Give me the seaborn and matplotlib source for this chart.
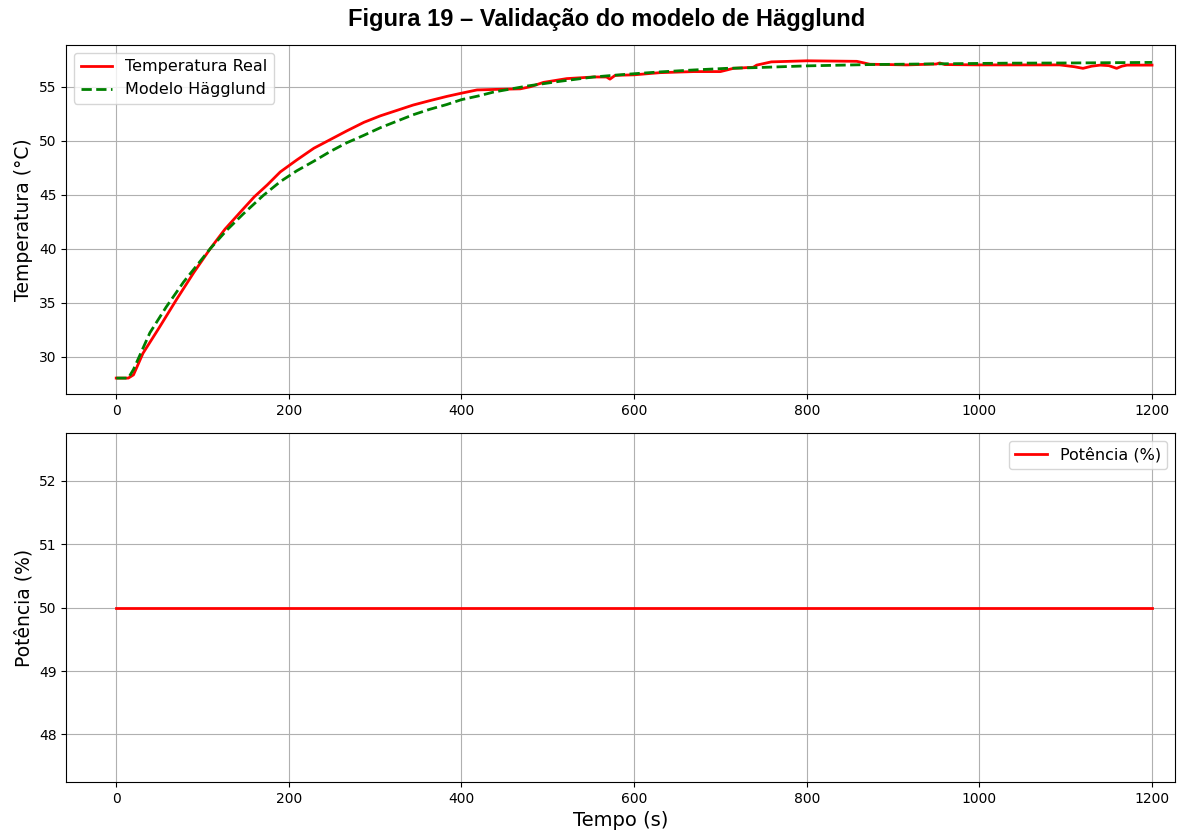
import numpy as np
import pandas as pd
import matplotlib
matplotlib.use("Agg")
import matplotlib.pyplot as plt
import seaborn as sns

# --- data ---
t_real = [0, 14, 20, 31, 50, 70, 90, 109, 126, 144, 160, 175, 190, 209, 229, 248, 267, 287,
          306, 325, 344, 363, 383, 400, 418, 440, 468, 480, 495, 522, 553, 568, 572, 578,
          600, 630, 669, 700, 715, 738, 742, 759, 800, 858, 873, 916, 950, 954, 960, 1000,
          1093, 1110, 1120, 1130, 1140, 1150, 1159, 1165, 1171, 1200]
temp_real = [28.0, 28.0, 28.3, 30.3, 32.7, 35.3, 37.8, 40.0, 41.8, 43.4, 44.8, 45.9, 47.1, 48.2,
             49.3, 50.1, 50.9, 51.7, 52.3, 52.8, 53.3, 53.7, 54.1, 54.4, 54.7, 54.75, 54.8,
             55.0, 55.4, 55.75, 55.9, 55.9, 55.7, 56.05, 56.1, 56.3, 56.4, 56.4, 56.7, 56.8,
             57.0, 57.3, 57.4, 57.35, 57.08, 57.02, 57.1, 57.2, 57.05, 57.02, 57.02, 56.85,
             56.7, 56.9, 57.0, 56.95, 56.7, 56.9, 57.0, 57.0]

t_model = [0, 14, 20, 39, 58, 78, 94, 109, 128, 147, 170, 190, 209, 229, 248, 267, 287, 306,
           325, 344, 363, 383, 400, 420, 437, 476, 514, 553, 591, 630, 669, 707, 742, 800,
           873, 954, 1032, 1109, 1200]
temp_model = [28.0, 28.0, 28.8, 32.2, 34.6, 36.9, 38.5, 40.0, 41.7, 43.2, 44.9, 46.2, 47.2,
              48.1, 49.0, 49.8, 50.5, 51.2, 51.8, 52.4, 52.9, 53.35, 53.8, 54.15, 54.5, 55.06,
              55.5, 55.9, 56.15, 56.37, 56.55, 56.7, 56.77, 56.93, 57.05, 57.12, 57.18, 57.2,
              57.25]

t_pot = [0, 1200]
potencia = [50, 50]

df_real = pd.DataFrame({"t": t_real, "v": temp_real})
df_model = pd.DataFrame({"t": t_model, "v": temp_model})
df_pot = pd.DataFrame({"t": t_pot, "v": potencia})

fig, (ax1, ax2) = plt.subplots(2, 1, figsize=(12.03, 8.32), dpi=100)
fig.subplots_adjust(left=0.055, right=0.977, top=0.946, bottom=0.06, hspace=0.112)

sns.lineplot(data=df_real, x="t", y="v", ax=ax1, color="red", linewidth=2,
             label="Temperatura Real", estimator=None, sort=False)
sns.lineplot(data=df_model, x="t", y="v", ax=ax1, color="green", linewidth=2,
             linestyle="--", label="Modelo Hägglund", estimator=None, sort=False)
ax1.set_xlabel("")
ax1.set_ylabel("Temperatura (°C)", fontsize=13.5)
ax1.grid(True)
ax1.legend(loc="upper left", fontsize=11.5)
ax1.tick_params(labelsize=10)

sns.lineplot(data=df_pot, x="t", y="v", ax=ax2, color="red", linewidth=2,
             label="Potência (%)", estimator=None)
ax2.set_xlabel("Tempo (s)", fontsize=14)
ax2.set_ylabel("Potência (%)", fontsize=13.5)
ax2.grid(True)
ax2.legend(loc="upper right", fontsize=11.5)
ax2.tick_params(labelsize=10)

for ax in (ax1, ax2):
    ax.set_xlim(-58, 1227)

fig.suptitle("Figura 19 – Validação do modelo de Hägglund", x=0.504, y=0.99,
             fontsize=17, fontweight="bold", family=["Liberation Sans", "DejaVu Sans"])

fig.savefig("out.png", dpi=100)
